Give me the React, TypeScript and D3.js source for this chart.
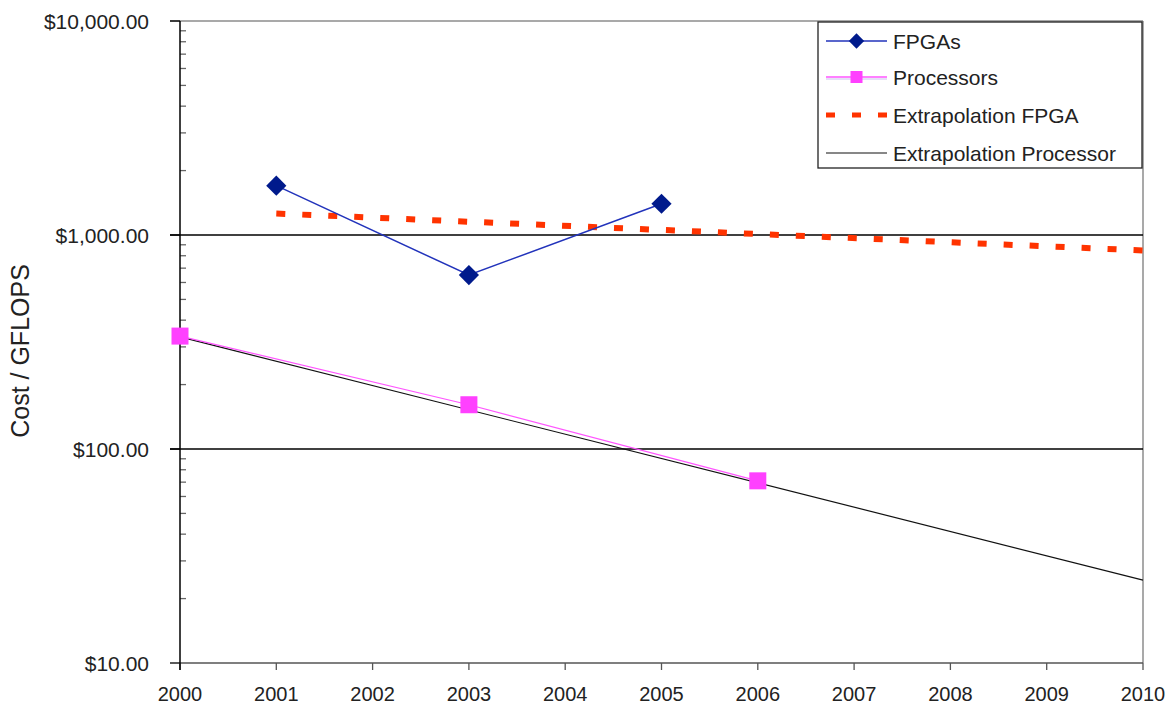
import React from 'react'
import * as d3 from 'd3'

// values
const years = [2000, 2001, 2002, 2003, 2004, 2005, 2006, 2007, 2008, 2009, 2010]
const yTicks = [10, 100, 1000, 10000]
const fpgaYears = [2001, 2003, 2005]
const fpgaCost = [1700, 650, 1400]
const procYears = [2000, 2003, 2006]
const procCost = [337, 161, 71]
const fpgaTrendYears = [2001, 2010]
const fpgaTrendCost = [1260, 847]
const procTrendYears = [2000, 2010]
const procTrendCost = [334, 24.4]
const legendLabels = ['FPGAs', 'Processors', 'Extrapolation FPGA', 'Extrapolation Processor']

const W = 1170
const H = 711
const left = 180
const right = 1143
const top = 21
const bottom = 663
const FONT = '"Liberation Sans", Arial, sans-serif'

export default function App() {
  const x = d3.scaleLinear().domain([2000, 2010]).range([left, right])
  const y = d3.scaleLog().domain([10, 10000]).range([bottom, top])
  const line = d3
    .line<[number, number]>()
    .x((d) => x(d[0]))
    .y((d) => y(d[1]))

  const zip = (a: number[], b: number[]) => a.map((v, i) => [v, b[i]] as [number, number])
  const fpga = zip(fpgaYears, fpgaCost)
  const proc = zip(procYears, procCost)
  const fpgaTrend = zip(fpgaTrendYears, fpgaTrendCost)
  const procTrend = zip(procTrendYears, procTrendCost)

  // minor log ticks 2..9 for each decade
  const minor: number[] = []
  for (let d = 10; d < 10000; d *= 10) for (let k = 2; k <= 9; k++) minor.push(d * k)

  const fmt = (v: number) => '$' + d3.format(',.2f')(v)
  const diamondType = d3.symbolDiamond2 ?? d3.symbolDiamond
  const diamond = d3.symbol().type(diamondType).size(260)()

  const lx0 = 826
  const lx1 = 887
  const legendRows = [41, 77, 115, 153]

  return (
    <svg width={W} height={H} style={{ position: 'absolute', left: 0, top: 0, background: '#fff' }}>
      {/* plot border */}
      <line x1={170} x2={right} y1={top} y2={top} stroke="#8c8c8c" strokeWidth={1.5} />
      <line x1={right} x2={right} y1={top} y2={bottom} stroke="#8c8c8c" strokeWidth={1.5} />

      {/* gridlines */}
      {yTicks.slice(1, 3).map((t) => (
        <line key={t} x1={170} x2={right} y1={y(t)} y2={y(t)} stroke="#000" strokeWidth={1.3} />
      ))}

      {/* minor ticks */}
      {minor.map((m) => (
        <line key={m} x1={left} x2={left + 6} y1={y(m)} y2={y(m)} stroke="#666" strokeWidth={1.3} />
      ))}
      {yTicks.map((t) => (
        <g key={t}>
          <line x1={170} x2={left} y1={y(t)} y2={y(t)} stroke="#000" strokeWidth={1.3} />
          <text
            x={149}
            y={y(t)}
            textAnchor="end"
            dominantBaseline="central"
            fontFamily={FONT}
            fontSize={21}
            fill="#222"
          >
            {fmt(t)}
          </text>
        </g>
      ))}

      {/* x axis */}
      <line x1={left} x2={right} y1={bottom} y2={bottom} stroke="#555" strokeWidth={1.5} />
      {years.map((yr) => (
        <g key={yr}>
          <line x1={x(yr)} x2={x(yr)} y1={bottom} y2={bottom + 7} stroke="#555" strokeWidth={1.3} />
          <text x={x(yr)} y={694} textAnchor="middle" dominantBaseline="central" fontFamily={FONT} fontSize={20} fill="#222">
            {yr}
          </text>
        </g>
      ))}
      <line x1={left} x2={left} y1={top} y2={bottom + 7} stroke="#000" strokeWidth={1.5} />

      {/* y title */}
      <text
        transform={`translate(20,351) rotate(-90)`}
        textAnchor="middle"
        dominantBaseline="central"
        fontFamily={FONT}
        fontSize={25}
        fill="#222"
      >
        Cost / GFLOPS
      </text>

      {/* extrapolations */}
      <path d={line(procTrend) || ''} fill="none" stroke="#111" strokeWidth={1.2} />
      <path d={line(fpgaTrend) || ''} fill="none" stroke="#ff3300" strokeWidth={6} strokeDasharray="9 17" />

      {/* processors */}
      <path d={line(proc) || ''} fill="none" stroke="#ff55ff" strokeWidth={1.2} />
      {proc.map((p, i) => (
        <rect key={i} x={x(p[0]) - 8.5} y={y(p[1]) - 8.5} width={17} height={17} fill="#ff40ff" />
      ))}

      {/* fpgas */}
      <path d={line(fpga) || ''} fill="none" stroke="#2233bb" strokeWidth={1.5} />
      {fpga.map((p, i) => (
        <path key={i} d={diamond || ''} transform={`translate(${x(p[0])},${y(p[1])})`} fill="#001a8c" />
      ))}

      {/* legend */}
      <rect x={818} y={22} width={324} height={146} fill="#fff" stroke="#222" strokeWidth={1.3} />
      <line x1={lx0} x2={lx1} y1={legendRows[0]} y2={legendRows[0]} stroke="#2233bb" strokeWidth={1.5} />
      <path
        d={d3.symbol().type(diamondType).size(150)() || ''}
        transform={`translate(${(lx0 + lx1) / 2},${legendRows[0]})`}
        fill="#001a8c"
      />
      <line x1={lx0} x2={lx1} y1={legendRows[1]} y2={legendRows[1]} stroke="#ff55ff" strokeWidth={1.5} />
      <line x1={lx0} x2={lx1} y1={legendRows[1] + 2} y2={legendRows[1] + 2} stroke="#ccc0ee" strokeWidth={1} />
      <rect x={(lx0 + lx1) / 2 - 6} y={legendRows[1] - 6} width={12} height={12} fill="#ff40ff" />
      <line x1={lx0} x2={lx1} y1={legendRows[2]} y2={legendRows[2]} stroke="#ff3300" strokeWidth={5} strokeDasharray="9 17" />
      <line x1={lx0} x2={lx1} y1={legendRows[3]} y2={legendRows[3]} stroke="#111" strokeWidth={1.2} />
      {legendLabels.map((s, i) => (
        <text key={s} x={893} y={legendRows[i]} dominantBaseline="central" fontFamily={FONT} fontSize={21} fill="#222">
          {s}
        </text>
      ))}
    </svg>
  )
}
